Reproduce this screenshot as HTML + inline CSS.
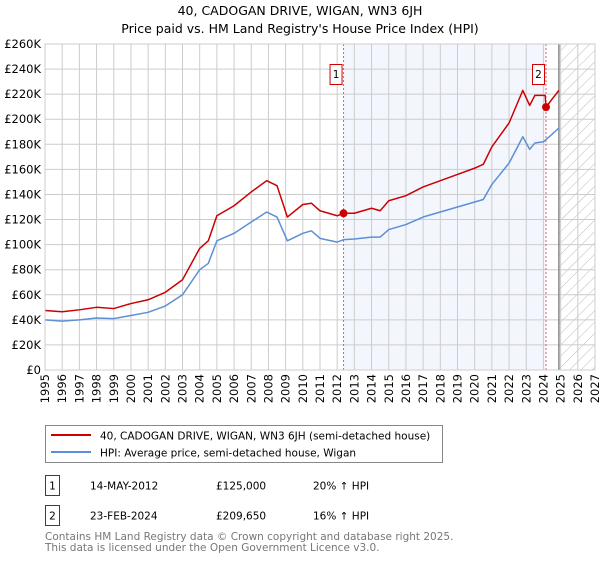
<!DOCTYPE html>
<html><head><meta charset="utf-8"><style>
body{margin:0;background:#fff;font-family:"DejaVu Sans","Liberation Sans",sans-serif;}
svg text{font-family:"DejaVu Sans","Liberation Sans",sans-serif;}
</style></head><body>
<svg id="c" width="600" height="560" xmlns="http://www.w3.org/2000/svg">
<defs><pattern id="hatch" patternUnits="userSpaceOnUse" width="8" height="8" patternTransform="rotate(45)"><line x1="0" y1="0" x2="0" y2="8" stroke="#bbb" stroke-width="1"/></pattern></defs>
<text x="300" y="15" text-anchor="middle" font-size="12.5">40, CADOGAN DRIVE, WIGAN, WN3 6JH</text>
<text x="300" y="33" text-anchor="middle" font-size="12.5">Price paid vs. HM Land Registry's House Price Index (HPI)</text>
<g id="plot"></g>
<rect x="45.5" y="425.5" width="397" height="37" fill="#fff" stroke="#888"/>
<line x1="51" y1="435" x2="91" y2="435" stroke="#cc0000" stroke-width="2"/>
<text x="100" y="439.5" font-size="10.5">40, CADOGAN DRIVE, WIGAN, WN3 6JH (semi-detached house)</text>
<line x1="51" y1="452" x2="91" y2="452" stroke="#5b8fd6" stroke-width="2"/>
<text x="100" y="456.5" font-size="10.5">HPI: Average price, semi-detached house, Wigan</text>
<g font-size="10.5">
<rect x="45.5" y="475.5" width="14" height="20" fill="#fff" stroke="#cc0000"/><text x="52.5" y="489.5" text-anchor="middle">1</text>
<text x="90" y="489.5">14-MAY-2012</text><text x="216" y="489.5">£125,000</text><text x="313" y="489.5">20% ↑ HPI</text></g>
<g font-size="10.5">
<rect x="45.5" y="505.5" width="14" height="20" fill="#fff" stroke="#cc0000"/><text x="52.5" y="519.5" text-anchor="middle">2</text>
<text x="90" y="519.5">23-FEB-2024</text><text x="216" y="519.5">£209,650</text><text x="313" y="519.5">16% ↑ HPI</text></g>
<text x="45" y="540" font-size="10.5" fill="#777">Contains HM Land Registry data © Crown copyright and database right 2025.</text>
<text x="45" y="551" font-size="10.5" fill="#777">This data is licensed under the Open Government Licence v3.0.</text>
</svg>
<script>
const hpiYears=[1995,1996,1997,1998,1999,2000,2001,2002,2003,2004,2004.5,2005,2006,2007,2007.9,2008.5,2009.1,2010,2010.5,2011,2012,2012.4,2013,2014,2014.5,2015,2016,2017,2018,2019,2020,2020.5,2021,2022,2022.8,2023.2,2023.5,2024,2024.5,2024.9];
const hpiValues=[40,39,40,41.5,41,43.5,46,51,60,80,85,103,109,118,126,122,103,109,111,105,102,104,104.5,106,106,112,116,122,126,130,134,136,148,165,186,176,181,182,188,193];
const propYears=[1995,1996,1997,1998,1999,2000,2001,2002,2003,2004,2004.5,2005,2006,2007,2007.9,2008.5,2009.1,2010,2010.5,2011,2012,2012.37,2013,2014,2014.5,2015,2016,2017,2018,2019,2020,2020.5,2021,2022,2022.8,2023.2,2023.5,2024.1,2024.15,2024.5,2024.9];
const propValues=[47.5,46.5,48,50,49,53,56,62,72,97,103,123,131,142,151,147,122,132,133,127,123,125,125,129,127,135,139,146,151,156,161,164,178,197,223,211,219,219,209.65,216,223];
const saleYears=[2012.37,2024.15];
const saleValues=[125,209.65];
const saleLabels=["1","2"];
const yTicks=[0,20,40,60,80,100,120,140,160,180,200,220,240,260];
const xTicks=[1995,1996,1997,1998,1999,2000,2001,2002,2003,2004,2005,2006,2007,2008,2009,2010,2011,2012,2013,2014,2015,2016,2017,2018,2019,2020,2021,2022,2023,2024,2025,2026,2027];
const dataEnd=2024.9;
const L=45,R=595,T=44,B=370;
const X=y=>L+(y-1995)/(2027-1995)*(R-L);
const Y=v=>B-v/260*(B-T);
const NS="http://www.w3.org/2000/svg";
const g=document.getElementById('plot');
function mk(t,a,p){const e=document.createElementNS(NS,t);for(const k in a)e.setAttribute(k,a[k]);(p||g).appendChild(e);return e;}
let e;
e=mk('rect',{x:X(saleYears[0]),y:T,width:X(saleYears[1])-X(saleYears[0]),height:B-T,fill:'#eef3fc',opacity:0.7});


e=mk('rect',{x:X(dataEnd),y:T,width:R-X(dataEnd),height:B-T,fill:'url(#hatch)'});


yTicks.forEach(v=>{mk('line',{x1:L,x2:R,y1:Y(v),y2:Y(v),stroke:'#ccc'});
 e=mk('text',{x:L-4,y:Y(v)+4,'text-anchor':'end','font-size':'11.5'});e.textContent='£'+(v?v+'K':'0');
 
 });
xTicks.forEach(y=>{mk('line',{x1:X(y),x2:X(y),y1:T,y2:B,stroke:'#ccc'});
 e=mk('text',{x:0,y:0,'text-anchor':'end','font-size':'11.5',transform:`translate(${X(y)+4},${B+4}) rotate(-90)`});e.textContent=y;
 
 });
mk('line',{x1:X(dataEnd),x2:X(dataEnd),y1:T,y2:B,stroke:'#888','stroke-width':1.5});
saleYears.forEach((s,i)=>{mk('line',{x1:X(s),x2:X(s),y1:T,y2:B,stroke:'#e06060','stroke-dasharray':'2,2'});
 e=mk('rect',{x:X(s)-13.5,y:64.5,width:12,height:20,fill:'#fff',stroke:'#cc0000'});
 
 
 const t=mk('text',{x:X(s)-7.5,y:78,'text-anchor':'middle','font-size':'10.5'});t.textContent=saleLabels[i];});
function line(xs,vs,c,n){const el=mk('polyline',{points:xs.map((x,i)=>X(x)+','+Y(vs[i])).join(' '),fill:'none',stroke:c,'stroke-width':1.5,'stroke-linejoin':'round'});
 
 }
line(hpiYears,hpiValues,'#5b8fd6','hpi-line');
line(propYears,propValues,'#cc0000','property-line');
saleYears.forEach((s,i)=>{e=mk('circle',{cx:X(s),cy:Y(saleValues[i]),r:4,fill:'#cc0000'});
 
 });
mk('rect',{x:L,y:T,width:R-L,height:B-T,fill:'none',stroke:'#ccc'});
</script>
</body></html>
